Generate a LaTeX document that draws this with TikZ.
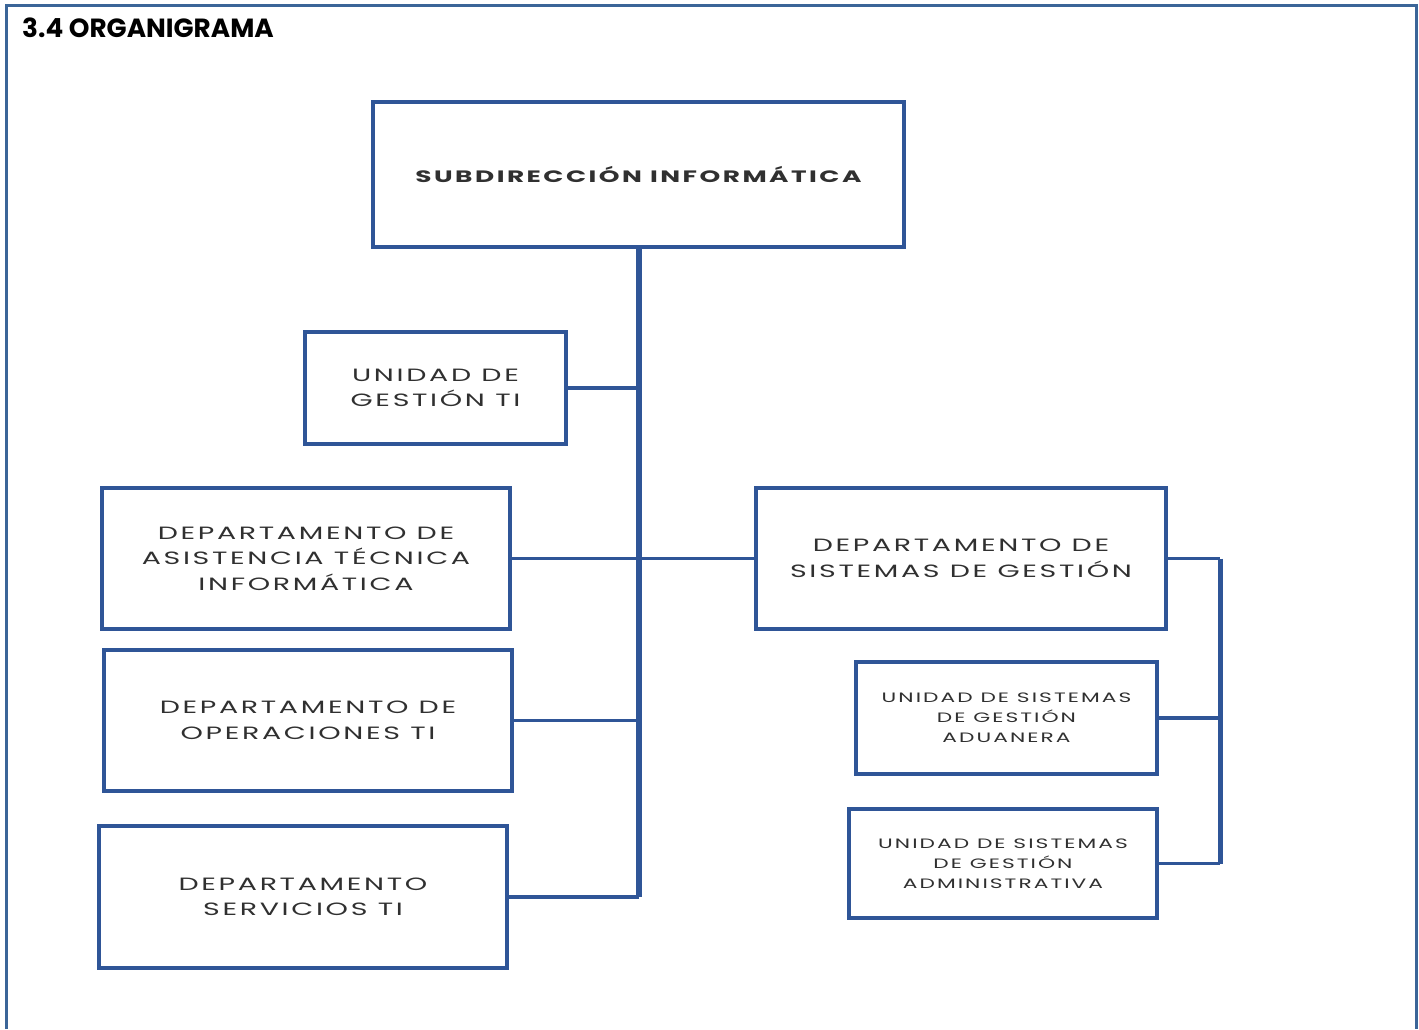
\documentclass[tikz,border=0pt]{standalone}
\usepackage{fontspec}
\setmainfont{Poppins}
\newfontfamily\boxfont[FakeStretch=1.6,LetterSpace=15]{Poppins}
\usepackage{tikz}
\definecolor{orgblue}{HTML}{2F5597}
\definecolor{frameblue}{HTML}{3B6598}
\definecolor{orgtext}{HTML}{303030}

\begin{document}
\begin{tikzpicture}[x=1pt,y=-1pt]
\tikzstyle{unitbox}=[draw=orgblue,line width=4pt,align=center,inner sep=0pt,text=orgtext,font=\boxfont\fontsize{17.8}{25.5}\selectfont]
\tikzstyle{smallbox}=[unitbox,font=\boxfont\fontsize{13.6}{20}\selectfont]
\tikzstyle{link}=[draw=orgblue,line width=3.5pt]
\useasboundingbox (0,0) rectangle (1419,1029);
\draw[frameblue,line width=3pt] (6,1029) -- (6,5) -- (1416,5) -- (1416,1029);
\node[anchor=west,inner sep=0pt,font=\bfseries\fontsize{26.3}{30}\selectfont] (title) at (22,28) {3.4 ORGANIGRAMA};
% cabeza
\node[unitbox,minimum width=531,minimum height=145,font=\boxfont\bfseries\fontsize{16.5}{20}\selectfont] (sub) at (638.5,174.5) {SUBDIRECCIÓN INFORMÁTICA};
% lado izquierdo
\node[unitbox,minimum width=261,minimum height=112] (uni) at (435.5,388) {UNIDAD DE\\GESTIÓN TI};
\node[unitbox,minimum width=408,minimum height=141] (asis) at (306,558.5) {DEPARTAMENTO DE\\ASISTENCIA TÉCNICA\\INFORMÁTICA};
\node[unitbox,minimum width=408,minimum height=141] (oper) at (308,720.5) {DEPARTAMENTO DE\\OPERACIONES TI};
\node[unitbox,minimum width=408,minimum height=142] (serv) at (303,897) {DEPARTAMENTO\\SERVICIOS TI};
% lado derecho
\node[unitbox,minimum width=410,minimum height=141] (sis) at (961,558.5) {DEPARTAMENTO DE\\SISTEMAS DE GESTIÓN};
\node[smallbox,minimum width=301,minimum height=112] (adu) at (1006.5,718) {UNIDAD DE SISTEMAS\\DE GESTIÓN\\ADUANERA};
\node[smallbox,minimum width=308,minimum height=109] (adm) at (1003,863.5) {UNIDAD DE SISTEMAS\\DE GESTIÓN\\ADMINISTRATIVA};
% lineas
\coordinate (trunk) at (sub.south |- serv.east);
\coordinate (brk) at (1220,558.5);
\draw[link,line width=6pt] (sub.south) -- (trunk);
\draw[link] (uni.east) -- (uni.east -| sub.south);
\draw[link] (asis.east) -- (sis.west);
\draw[link] (oper.east) -- (oper.east -| sub.south);
\draw[link] (serv.east) -- (trunk);
\draw[link] (sis.east) -- (brk);
\draw[link,line width=5pt] (brk) -- (brk |- adm.east);
\draw[link] (adu.east) -- (adu.east -| brk);
\draw[link] (adm.east) -- (adm.east -| brk);
\end{tikzpicture}
\end{document}
